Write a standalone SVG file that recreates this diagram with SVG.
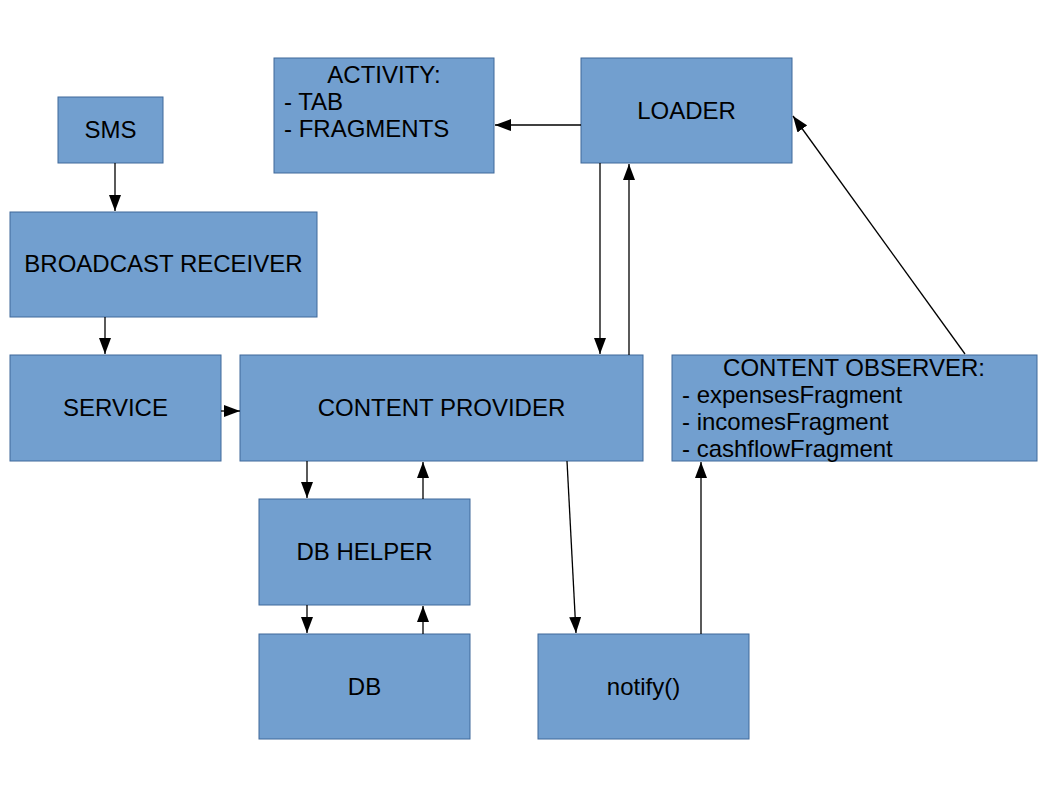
<svg xmlns="http://www.w3.org/2000/svg" width="1058" height="794" viewBox="0 0 1058 794">
<defs>
<marker id="ah" markerUnits="userSpaceOnUse" markerWidth="16" markerHeight="12" refX="16" refY="6" orient="auto">
<path d="M0,0 L16,6 L0,12 z" fill="#000"/>
</marker>
<style>
.box{fill:#729fcf;stroke:#3f689a;stroke-width:1}
.t{font-family:"Liberation Sans",Arial,sans-serif;font-size:24px;fill:#000}
.c{text-anchor:middle}
.ln{stroke:#000;stroke-width:1.3;fill:none;marker-end:url(#ah)}
</style>
</defs>
<rect width="1058" height="794" fill="#fff"/>
<g id="sms"><rect class="box" x="58" y="97" width="105" height="66"/><text class="t c" x="110.5" y="138">SMS</text></g>
<g id="activity"><rect class="box" x="274" y="58" width="220" height="115"/>
<text class="t c" x="384" y="83">ACTIVITY:</text>
<text class="t" x="284" y="110">- TAB</text>
<text class="t" x="284" y="137">- FRAGMENTS</text></g>
<g id="loader"><rect class="box" x="581" y="58" width="211" height="105"/><text class="t c" x="686.5" y="119">LOADER</text></g>
<g id="broadcast"><rect class="box" x="10" y="212" width="307" height="105"/><text class="t c" x="163.5" y="272">BROADCAST RECEIVER</text></g>
<g id="service"><rect class="box" x="10" y="355" width="211" height="106"/><text class="t c" x="115.5" y="416">SERVICE</text></g>
<g id="provider"><rect class="box" x="240" y="355" width="403" height="106"/><text class="t c" x="441.5" y="416">CONTENT PROVIDER</text></g>
<g id="observer"><rect class="box" x="672" y="355" width="365" height="106"/>
<text class="t c" x="854" y="376">CONTENT OBSERVER:</text>
<text class="t" x="682" y="403">- expensesFragment</text>
<text class="t" x="682" y="430">- incomesFragment</text>
<text class="t" x="682" y="457">- cashflowFragment</text></g>
<g id="dbhelper"><rect class="box" x="259" y="499" width="211" height="106"/><text class="t c" x="364.5" y="560">DB HELPER</text></g>
<g id="db"><rect class="box" x="259" y="634" width="211" height="105"/><text class="t c" x="364.5" y="695">DB</text></g>
<g id="notify"><rect class="box" x="538" y="634" width="211" height="105"/><text class="t c" x="643.5" y="695">notify()</text></g>
<g id="connectors">
<line class="ln" x1="115" y1="163" x2="115" y2="211"/>
<line class="ln" x1="105" y1="317" x2="105" y2="354"/>
<line class="ln" x1="221" y1="411" x2="240" y2="411"/>
<line class="ln" x1="581" y1="125" x2="495" y2="125"/>
<line class="ln" x1="600" y1="163" x2="600" y2="354"/>
<line class="ln" x1="629" y1="355" x2="629" y2="164"/>
<line class="ln" x1="307" y1="461" x2="307" y2="498"/>
<line class="ln" x1="423" y1="499" x2="423" y2="462"/>
<line class="ln" x1="307" y1="605" x2="307" y2="633"/>
<line class="ln" x1="423" y1="634" x2="423" y2="606"/>
<line class="ln" x1="567" y1="461" x2="576" y2="633"/>
<line class="ln" x1="701" y1="634" x2="701" y2="462"/>
<line class="ln" x1="965" y1="354" x2="793" y2="116"/>
</g>
</svg>
